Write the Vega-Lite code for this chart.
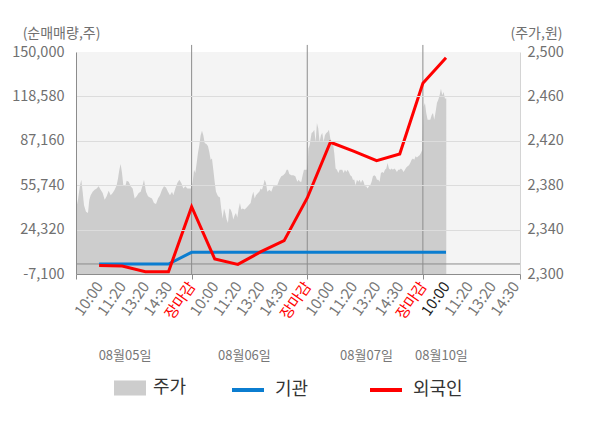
{
  "$schema": "https://vega.github.io/schema/vega-lite/v6.json",
  "width": 444,
  "height": 222,
  "autosize": "none",
  "padding": {"left": 76, "top": 52, "right": 80, "bottom": 154},
  "config": {
    "font": "Noto Sans CJK KR",
    "view": {"fill": "#f4f4f4", "stroke": null},
    "axis": {
      "labelFont": "Noto Sans CJK KR",
      "titleFont": "Noto Sans CJK KR",
      "labelColor": "#707070",
      "titleColor": "#707070",
      "labelFontSize": 14.5,
      "titleFontSize": 14,
      "titleFontWeight": "normal"
    },
    "legend": {"labelFont": "Noto Sans CJK KR", "labelFontSize": 18, "labelColor": "#333333"}
  },
  "datasets": {
    "price": [
      {"t": 0, "p": 2358}, {"t": 0.43, "p": 2367}, {"t": 0.86, "p": 2380}, {"t": 1.15, "p": 2385},
      {"t": 1.44, "p": 2374}, {"t": 1.73, "p": 2362}, {"t": 2.16, "p": 2356}, {"t": 2.59, "p": 2355},
      {"t": 2.88, "p": 2367}, {"t": 3.17, "p": 2371}, {"t": 3.6, "p": 2374}, {"t": 4.04, "p": 2376},
      {"t": 4.47, "p": 2377}, {"t": 4.9, "p": 2379}, {"t": 5.33, "p": 2376}, {"t": 5.77, "p": 2373},
      {"t": 6.2, "p": 2367}, {"t": 6.63, "p": 2370}, {"t": 7.06, "p": 2375}, {"t": 7.5, "p": 2371},
      {"t": 7.93, "p": 2373}, {"t": 8.36, "p": 2376}, {"t": 8.79, "p": 2380}, {"t": 9.08, "p": 2386},
      {"t": 9.37, "p": 2394}, {"t": 9.66, "p": 2399}, {"t": 9.95, "p": 2391}, {"t": 10.23, "p": 2380},
      {"t": 10.67, "p": 2379}, {"t": 10.95, "p": 2384}, {"t": 11.39, "p": 2383}, {"t": 11.82, "p": 2379},
      {"t": 12.25, "p": 2377}, {"t": 12.68, "p": 2368}, {"t": 13.12, "p": 2370}, {"t": 13.55, "p": 2373},
      {"t": 13.98, "p": 2374}, {"t": 14.41, "p": 2380}, {"t": 14.7, "p": 2385}, {"t": 15.14, "p": 2374},
      {"t": 15.57, "p": 2370}, {"t": 16, "p": 2369}, {"t": 16.43, "p": 2368}, {"t": 16.86, "p": 2364},
      {"t": 17.3, "p": 2363}, {"t": 17.73, "p": 2368}, {"t": 18.16, "p": 2371}, {"t": 18.59, "p": 2376},
      {"t": 19.03, "p": 2379}, {"t": 19.46, "p": 2378}, {"t": 19.89, "p": 2374}, {"t": 20.32, "p": 2371},
      {"t": 20.76, "p": 2374}, {"t": 21.04, "p": 2371}, {"t": 21.48, "p": 2377}, {"t": 21.91, "p": 2382},
      {"t": 22.34, "p": 2385}, {"t": 22.77, "p": 2382}, {"t": 23.21, "p": 2377}, {"t": 23.64, "p": 2379},
      {"t": 24.07, "p": 2377}, {"t": 24.5, "p": 2377}, {"t": 24.9, "p": 2377},
      {"t": 25.22, "p": 2382}, {"t": 25.51, "p": 2394}, {"t": 25.8, "p": 2391}, {"t": 26.09, "p": 2400},
      {"t": 26.37, "p": 2409}, {"t": 26.66, "p": 2416}, {"t": 26.95, "p": 2425}, {"t": 27.24, "p": 2429},
      {"t": 27.53, "p": 2425}, {"t": 27.82, "p": 2418}, {"t": 28.25, "p": 2417}, {"t": 28.54, "p": 2415},
      {"t": 28.82, "p": 2410}, {"t": 29.11, "p": 2403}, {"t": 29.4, "p": 2404}, {"t": 29.69, "p": 2394},
      {"t": 29.98, "p": 2383}, {"t": 30.27, "p": 2374}, {"t": 30.7, "p": 2370}, {"t": 31.13, "p": 2369},
      {"t": 31.42, "p": 2358}, {"t": 31.71, "p": 2350}, {"t": 32, "p": 2359}, {"t": 32.28, "p": 2355},
      {"t": 32.57, "p": 2349}, {"t": 32.86, "p": 2346}, {"t": 33.15, "p": 2359}, {"t": 33.44, "p": 2358},
      {"t": 33.72, "p": 2355}, {"t": 34.01, "p": 2349}, {"t": 34.3, "p": 2353}, {"t": 34.59, "p": 2355},
      {"t": 34.88, "p": 2351}, {"t": 35.17, "p": 2359}, {"t": 35.45, "p": 2364}, {"t": 35.74, "p": 2358},
      {"t": 36.03, "p": 2359}, {"t": 36.46, "p": 2358}, {"t": 36.9, "p": 2360}, {"t": 37.33, "p": 2362},
      {"t": 37.76, "p": 2364}, {"t": 38.05, "p": 2370}, {"t": 38.34, "p": 2374}, {"t": 38.63, "p": 2368},
      {"t": 38.91, "p": 2371}, {"t": 39.35, "p": 2373}, {"t": 39.63, "p": 2374}, {"t": 39.92, "p": 2377},
      {"t": 40.21, "p": 2376}, {"t": 40.5, "p": 2380}, {"t": 40.79, "p": 2385}, {"t": 41.08, "p": 2382},
      {"t": 41.36, "p": 2374}, {"t": 41.8, "p": 2376}, {"t": 42.23, "p": 2374}, {"t": 42.66, "p": 2379},
      {"t": 43.09, "p": 2379}, {"t": 43.53, "p": 2380}, {"t": 43.96, "p": 2385}, {"t": 44.39, "p": 2388},
      {"t": 44.82, "p": 2389}, {"t": 45.26, "p": 2391}, {"t": 45.54, "p": 2394}, {"t": 45.83, "p": 2394},
      {"t": 46.12, "p": 2390}, {"t": 46.55, "p": 2389}, {"t": 46.99, "p": 2389}, {"t": 47.42, "p": 2388},
      {"t": 47.85, "p": 2383}, {"t": 48.14, "p": 2385}, {"t": 48.43, "p": 2383}, {"t": 48.72, "p": 2383},
      {"t": 49, "p": 2389}, {"t": 49.29, "p": 2394}, {"t": 49.72, "p": 2394}, {"t": 49.9, "p": 2394},
      {"t": 50.1, "p": 2400}, {"t": 50.25, "p": 2413}, {"t": 50.51, "p": 2416}, {"t": 50.94, "p": 2427},
      {"t": 51.23, "p": 2428}, {"t": 51.52, "p": 2430}, {"t": 51.81, "p": 2419}, {"t": 52.09, "p": 2436},
      {"t": 52.38, "p": 2431}, {"t": 52.67, "p": 2419}, {"t": 52.96, "p": 2425}, {"t": 53.25, "p": 2427},
      {"t": 53.54, "p": 2419}, {"t": 53.82, "p": 2425}, {"t": 54.11, "p": 2427}, {"t": 54.4, "p": 2428},
      {"t": 54.69, "p": 2430}, {"t": 54.98, "p": 2422}, {"t": 55.27, "p": 2419}, {"t": 55.55, "p": 2418},
      {"t": 55.84, "p": 2409}, {"t": 56.13, "p": 2395}, {"t": 56.42, "p": 2394}, {"t": 56.71, "p": 2391},
      {"t": 57, "p": 2394}, {"t": 57.28, "p": 2394}, {"t": 57.57, "p": 2394}, {"t": 57.86, "p": 2391},
      {"t": 58.15, "p": 2394}, {"t": 58.44, "p": 2392}, {"t": 58.73, "p": 2394}, {"t": 59.01, "p": 2392},
      {"t": 59.3, "p": 2389}, {"t": 59.59, "p": 2388}, {"t": 59.88, "p": 2385}, {"t": 60.17, "p": 2385},
      {"t": 60.45, "p": 2380}, {"t": 60.74, "p": 2385}, {"t": 61.03, "p": 2383}, {"t": 61.32, "p": 2385},
      {"t": 61.61, "p": 2382}, {"t": 61.9, "p": 2385}, {"t": 62.18, "p": 2383}, {"t": 62.47, "p": 2379},
      {"t": 62.76, "p": 2379}, {"t": 63.05, "p": 2377}, {"t": 63.34, "p": 2379}, {"t": 63.63, "p": 2380},
      {"t": 63.91, "p": 2383}, {"t": 64.2, "p": 2388}, {"t": 64.49, "p": 2389}, {"t": 64.78, "p": 2388},
      {"t": 65.07, "p": 2385}, {"t": 65.36, "p": 2385}, {"t": 65.64, "p": 2383}, {"t": 65.93, "p": 2391},
      {"t": 66.22, "p": 2392}, {"t": 66.51, "p": 2391}, {"t": 66.8, "p": 2394}, {"t": 67.09, "p": 2395},
      {"t": 67.37, "p": 2400}, {"t": 67.66, "p": 2395}, {"t": 67.95, "p": 2394}, {"t": 68.24, "p": 2395},
      {"t": 68.53, "p": 2394}, {"t": 68.81, "p": 2395}, {"t": 69.1, "p": 2394}, {"t": 69.39, "p": 2392},
      {"t": 69.68, "p": 2394}, {"t": 69.97, "p": 2394}, {"t": 70.26, "p": 2395}, {"t": 70.54, "p": 2394},
      {"t": 70.83, "p": 2392}, {"t": 71.12, "p": 2394}, {"t": 71.41, "p": 2396}, {"t": 71.7, "p": 2397},
      {"t": 71.99, "p": 2398}, {"t": 72.27, "p": 2400}, {"t": 72.56, "p": 2403}, {"t": 72.85, "p": 2404},
      {"t": 73.14, "p": 2403}, {"t": 73.43, "p": 2406}, {"t": 73.72, "p": 2405}, {"t": 74, "p": 2406},
      {"t": 74.29, "p": 2407}, {"t": 74.58, "p": 2409}, {"t": 74.87, "p": 2412},
      {"t": 75.16, "p": 2451}, {"t": 75.45, "p": 2454}, {"t": 75.73, "p": 2445}, {"t": 76.02, "p": 2439},
      {"t": 76.31, "p": 2439}, {"t": 76.6, "p": 2439}, {"t": 76.89, "p": 2443}, {"t": 77.18, "p": 2445},
      {"t": 77.46, "p": 2439}, {"t": 77.75, "p": 2446}, {"t": 78.04, "p": 2454}, {"t": 78.33, "p": 2457},
      {"t": 78.62, "p": 2461}, {"t": 78.91, "p": 2467}, {"t": 79.19, "p": 2461}, {"t": 79.48, "p": 2464},
      {"t": 79.77, "p": 2458}, {"t": 80.06, "p": 2458}
    ],
    "flows": [
      {"t": 5, "series": "기관", "v": 0}, {"t": 10, "series": "기관", "v": 0},
      {"t": 15, "series": "기관", "v": 0}, {"t": 20, "series": "기관", "v": 0},
      {"t": 25, "series": "기관", "v": 8250}, {"t": 30, "series": "기관", "v": 8250},
      {"t": 35, "series": "기관", "v": 8250}, {"t": 40, "series": "기관", "v": 8250},
      {"t": 45, "series": "기관", "v": 8250}, {"t": 50, "series": "기관", "v": 8250},
      {"t": 55, "series": "기관", "v": 8250}, {"t": 60, "series": "기관", "v": 8250},
      {"t": 65, "series": "기관", "v": 8250}, {"t": 70, "series": "기관", "v": 8250},
      {"t": 75, "series": "기관", "v": 8250}, {"t": 80, "series": "기관", "v": 8250},
      {"t": 5, "series": "외국인", "v": -1000}, {"t": 10, "series": "외국인", "v": -1500},
      {"t": 15, "series": "외국인", "v": -5500}, {"t": 20, "series": "외국인", "v": -5500},
      {"t": 25, "series": "외국인", "v": 40500}, {"t": 30, "series": "외국인", "v": 3500},
      {"t": 35, "series": "외국인", "v": -300}, {"t": 40, "series": "외국인", "v": 8700},
      {"t": 45, "series": "외국인", "v": 16500}, {"t": 50, "series": "외국인", "v": 46700},
      {"t": 55, "series": "외국인", "v": 86100}, {"t": 60, "series": "외국인", "v": 79800},
      {"t": 65, "series": "외국인", "v": 73100}, {"t": 70, "series": "외국인", "v": 77800},
      {"t": 75, "series": "외국인", "v": 127900}, {"t": 80, "series": "외국인", "v": 146000}
    ],
    "days": [{"t": 25}, {"t": 50}, {"t": 75}]
  },
  "layer": [
    {
      "data": {"name": "price"},
      "mark": {"type": "area", "interpolate": "linear"},
      "encoding": {
        "x": {
          "field": "t", "type": "quantitative",
          "scale": {"domain": [0, 96], "nice": false, "zero": false},
          "axis": {"orient": "bottom", "values": [0, 25, 50, 75, 96], "labels": false, "ticks": true, "tickSize": 5,
                   "tickColor": "#8c8c8c", "domainColor": "#8c8c8c", "grid": false, "title": null, "zindex": 1}
        },
        "y": {
          "field": "p", "type": "quantitative", "stack": null,
          "scale": {"domain": [2300, 2500], "nice": false, "zero": false},
          "axis": {"orient": "right", "values": [2300, 2340, 2380, 2420, 2460, 2500],
                   "labelExpr": "format(datum.value, ',')",
                   "grid": false, "ticks": false, "labelPadding": 7, "domainColor": "#d4d4d4",
                   "title": "(주가,원)", "titleAngle": 0, "titleX": 16, "titleY": -19,
                   "titleAlign": "center", "titleBaseline": "middle"}
        },
        "fill": {
          "datum": "주가", "type": "nominal",
          "scale": {"domain": ["주가"], "range": ["#cdcdcd"]},
          "legend": {"orient": "none", "legendX": 38, "legendY": 320, "title": null,
                     "symbolType": "M-1,-0.47H1V0.47H-1Z", "symbolSize": 1024, "symbolStrokeWidth": 0,
                     "labelOffset": 7}
        }
      }
    },
    {
      "data": {"values": [{}]},
      "mark": {"type": "rule", "color": "#8c8c8c", "strokeWidth": 1},
      "encoding": {
        "y": {"datum": 0, "type": "quantitative",
              "scale": {"domain": [-7100, 150000], "nice": false, "zero": false}, "axis": null}
      }
    },
    {
      "data": {"name": "days"},
      "mark": {"type": "rule", "color": "#8c8c8c", "strokeWidth": 1},
      "encoding": {
        "x": {
          "field": "t", "type": "quantitative",
          "axis": {"orient": "bottom", "values": [10.49, 36.3, 62.7, 78.9],
                   "labelExpr": "datum.value < 20 ? '08월05일' : datum.value < 50 ? '08월06일' : datum.value < 70 ? '08월07일' : '08월10일'",
                   "ticks": false, "domain": false, "grid": false, "labelAngle": 0, "labelAlign": "center",
                   "labelBaseline": "middle", "offset": 81, "labelPadding": 0, "labelFontSize": 13,
                   "labelColor": "#777777", "labelOverlap": false, "title": null}
        },
        "y": {"datum": 155000, "type": "quantitative",
              "scale": {"domain": [-7100, 150000], "nice": false, "zero": false}, "axis": null},
        "y2": {"datum": -7100}
      }
    },
    {
      "data": {"name": "flows"},
      "mark": {"type": "line", "strokeWidth": 3},
      "encoding": {
        "x": {
          "field": "t", "type": "quantitative",
          "axis": {"orient": "bottom", "values": [5, 10, 15, 20, 25, 30, 35, 40, 45, 50, 55, 60, 65, 70, 75, 80, 85, 90, 95],
                   "labelExpr": "['10:00','11:20','13:20','14:30','장마감'][(datum.value / 5 - 1) % 5]",
                   "ticks": false, "domain": false, "grid": false, "labelAngle": -55, "labelPadding": 9,
                   "labelOverlap": false, "labelBound": false, "labelFontSize": 15, "title": null,
                   "labelColor": {"condition": [{"test": "datum.value % 25 === 0", "value": "#ff0000"},
                                                {"test": "datum.value === 80", "value": "#222222"}],
                                  "value": "#777777"}}
        },
        "y": {
          "field": "v", "type": "quantitative",
          "scale": {"domain": [-7100, 150000], "nice": false, "zero": false},
          "axis": {"orient": "left", "values": [-7100, 24320, 55740, 87160, 118580, 150000],
                   "labelExpr": "datum.value < 0 ? '-' + format(-datum.value, ',') : format(datum.value, ',')",
                   "grid": true, "gridColor": "#dcdcdc",
                   "gridOpacity": {"condition": {"test": "datum.value === 150000 || datum.value === -7100", "value": 0}, "value": 1},
                   "ticks": false, "labelPadding": 12, "domainColor": "#8c8c8c", "zindex": 1,
                   "title": "(순매매량,주)", "titleAngle": 0, "titleX": -15, "titleY": -19,
                   "titleAlign": "center", "titleBaseline": "middle"}
        },
        "stroke": {
          "field": "series", "type": "nominal",
          "scale": {"domain": ["기관", "외국인"], "range": ["#0b7dd0", "#ff0000"]},
          "legend": {"orient": "none", "legendX": 154, "legendY": 320, "direction": "horizontal", "title": null,
                     "symbolType": "stroke", "symbolSize": 1024, "symbolStrokeWidth": 4,
                     "labelOffset": 9, "columnPadding": 53}
        }
      }
    }
  ],
  "resolve": {
    "scale": {"y": "independent"},
    "axis": {"x": "independent", "y": "independent"}
  }
}
